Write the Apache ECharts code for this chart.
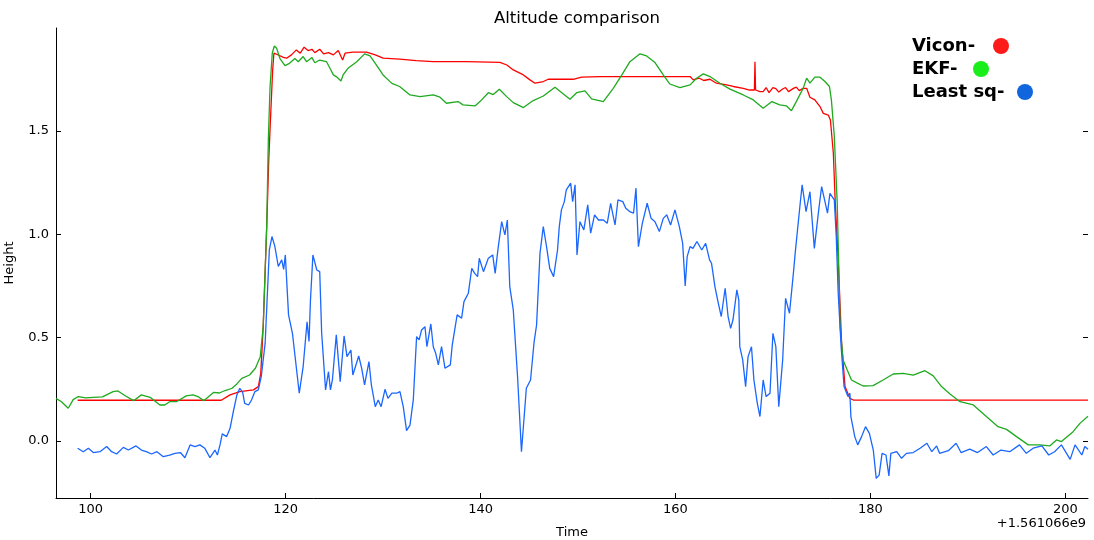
<!DOCTYPE html>
<html>
<head>
<meta charset="utf-8">
<script src="https://cdn.jsdelivr.net/npm/echarts@6/dist/echarts.min.js"></script>
<style>
  html, body { margin: 0; padding: 0; background: #fff; }
  #chart { width: 1094px; height: 540px; }
</style>
</head>
<body>
<div id="chart"></div>
<script>
(function () {
    "use strict";

    // time offsets (s, relative to 1.561066e9) and heights (m)
    var viconT = [98.66, 113.4, 114.3, 115.3, 116.7, 117.2, 117.45, 117.7, 118.06, 118.27, 118.4, 118.67, 118.8,
        119.08, 119.77, 120.1, 120.6, 121.1, 121.5, 121.9, 122.3, 122.7, 123.0, 123.5, 123.9, 124.4, 124.9, 125.4,
        125.85, 126.1, 126.9, 128.3, 129.2, 130.0, 131.7, 133.4, 135.15, 138.57, 141.99, 142.7, 143.36, 144.4,
        145.07, 145.6, 146.44, 146.95, 149.5, 150.37, 152.25, 155.7, 161.5, 161.83, 162.4, 162.9, 163.54, 164.2,
        165.25, 165.93, 166.96, 167.6, 168.1, 168.16, 168.22, 168.67, 169.0, 169.3, 169.6, 170.0, 170.3, 170.6,
        171.0, 171.3, 171.6, 172.1, 172.4, 172.7, 173.1, 173.46, 173.8, 174.3, 174.83, 175.17, 175.68, 175.9,
        176.2, 176.4, 176.7, 177.05, 177.4, 177.9, 178.25, 202.33];
    var viconV = [0.197, 0.197, 0.223, 0.239, 0.247, 0.263, 0.327, 0.553, 1.037, 1.36, 1.505, 1.795, 1.876,
        1.871, 1.856, 1.852, 1.868, 1.892, 1.876, 1.905, 1.889, 1.895, 1.879, 1.895, 1.873, 1.879, 1.868, 1.889,
        1.843, 1.876, 1.881, 1.881, 1.868, 1.852, 1.847, 1.84, 1.835, 1.835, 1.832, 1.819, 1.795, 1.771,
        1.747, 1.731, 1.739, 1.75, 1.75, 1.76, 1.763, 1.763, 1.763, 1.747, 1.756, 1.744, 1.75, 1.731,
        1.723, 1.715, 1.706, 1.698, 1.698, 1.835, 1.698, 1.69, 1.69, 1.71, 1.685, 1.71, 1.705, 1.688,
        1.703, 1.71, 1.69, 1.706, 1.712, 1.695, 1.706, 1.706, 1.663, 1.65, 1.618, 1.585, 1.577, 1.553,
        1.392, 1.15, 0.876, 0.473, 0.263, 0.206, 0.198, 0.198];

    var ekfT = [96.44, 97.0, 97.7, 98.2, 98.73, 99.5, 100.27, 101.2, 102.3, 102.8, 103.5, 104.4, 105.2, 106.1,
        107.1, 107.6, 108.1, 108.8, 109.8, 110.5, 111.0, 111.6, 112.6, 113.2, 113.8, 114.5, 115.0, 115.5, 116.3,
        116.9, 117.4, 117.7, 118.06, 118.23, 118.4, 118.63, 118.84, 119.08, 119.42, 119.93, 120.4, 120.95, 121.3,
        121.8, 122.15, 122.7, 123.0, 123.5, 124.2, 124.55, 124.9, 125.2, 125.68, 125.9, 126.4, 127.3, 128.1,
        128.66, 129.2, 130.0, 130.9, 131.7, 132.76, 133.8, 135.15, 135.84, 136.5, 137.7, 138.2, 139.43, 139.94,
        140.8, 141.3, 141.93, 142.68, 143.36, 144.4, 145.41, 146.44, 147.64, 148.5, 149.18, 149.86, 150.72,
        151.4, 152.6, 153.62, 154.5, 155.33, 156.36, 157.04, 157.9, 158.75, 159.43, 160.46, 161.5, 162.17,
        162.86, 163.54, 164.56, 165.6, 166.96, 167.99, 169.0, 169.9, 170.7, 171.4, 171.9, 172.4, 173.1, 173.46,
        173.8, 174.3, 174.83, 175.34, 175.8, 176.0, 176.3, 176.6, 176.9, 177.2, 177.55, 178.06, 178.57, 179.26,
        180.28, 181.3, 182.35, 183.37, 184.4, 185.6, 186.45, 187.3, 188.17, 189.2, 190.56, 191.9, 193.1, 193.97,
        195.0, 196.2, 197.4, 198.4, 199.1, 199.6, 200.8, 201.5, 202.33];
    var ekfV = [0.206, 0.19, 0.158, 0.2, 0.215, 0.208, 0.211, 0.213, 0.239, 0.242, 0.22, 0.195, 0.223, 0.211,
        0.174, 0.174, 0.19, 0.19, 0.218, 0.223, 0.215, 0.195, 0.235, 0.232, 0.244, 0.255, 0.276, 0.303, 0.319,
        0.352, 0.408, 0.553, 1.037, 1.465, 1.71, 1.876, 1.911, 1.9, 1.85, 1.816, 1.827, 1.85, 1.835,
        1.86, 1.835, 1.855, 1.83, 1.843, 1.835, 1.803, 1.771, 1.763, 1.742, 1.771, 1.803, 1.835, 1.873,
        1.863, 1.827, 1.771, 1.73, 1.715, 1.674, 1.666, 1.674, 1.663, 1.634, 1.642, 1.626, 1.621, 1.642,
        1.685, 1.676, 1.702, 1.666, 1.637, 1.613, 1.647, 1.669, 1.711, 1.679, 1.653, 1.685, 1.694,
        1.655, 1.642, 1.706, 1.771, 1.835, 1.873, 1.863, 1.831, 1.771, 1.727, 1.71, 1.723, 1.755,
        1.776, 1.763, 1.731, 1.702, 1.674, 1.65, 1.61, 1.642, 1.626, 1.621, 1.598, 1.642, 1.706, 1.755,
        1.731, 1.76, 1.76, 1.739, 1.715, 1.65, 1.473, 1.15, 0.553, 0.392, 0.352, 0.295, 0.282, 0.266,
        0.268, 0.295, 0.324, 0.327, 0.319, 0.34, 0.315, 0.263, 0.227, 0.19, 0.174, 0.118, 0.069, 0.056,
        0.021, -0.019, -0.019, -0.024, 0.005, -0.003, 0.045, 0.085, 0.12];

    var lsqT = [98.66, 99.24, 99.76, 100.27, 100.95, 101.64, 102.15, 102.66, 103.35, 103.86, 104.65, 105.2, 105.7,
        106.25, 106.8, 107.45, 108.1, 108.65, 109.2, 109.67, 110.2, 110.7, 111.2, 111.7, 112.24, 112.75, 113.0,
        113.27, 113.5, 113.95, 114.3, 114.6, 115.0, 115.3, 115.6, 115.8, 116.2, 116.5, 116.85, 117.2, 117.5,
        117.9, 118.1, 118.33, 118.6, 118.9, 119.25, 119.6, 119.8, 119.97, 120.3, 120.7, 121.4, 121.8, 122.2,
        122.4, 122.55, 122.8, 123.2, 123.5, 123.7, 124.1, 124.4, 124.6, 124.8, 125.2, 125.6, 126.0, 126.3,
        126.7, 126.9, 127.5, 127.8, 128.1, 128.55, 128.8, 129.2, 129.5, 129.8, 130.2, 130.5, 130.9, 131.4,
        131.73, 132.07, 132.41, 132.76, 133.1, 133.44, 133.7, 133.95, 134.3, 134.5, 134.9, 135.15, 135.4,
        135.67, 136.0, 136.35, 136.9, 137.1, 137.6, 138.06, 138.3, 138.75, 139.1, 139.4, 139.7, 139.87,
        140.3, 140.8, 141.25, 141.5, 141.8, 142.17, 142.5, 142.75, 143.0, 143.36, 143.8, 144.2, 144.7,
        145.13, 145.5, 145.75, 146.1, 146.44, 146.8, 147.1, 147.5, 147.9, 148.08, 148.3, 148.6, 148.8,
        149.25, 149.45, 149.7, 149.9, 150.2, 150.6, 151.0, 151.3, 151.7, 152.1, 152.6, 153.0, 153.35,
        153.8, 154.1, 154.6, 154.9, 155.3, 155.7, 155.95, 156.2, 156.6, 157.1, 157.5, 157.9, 158.35,
        158.75, 159.1, 159.5, 159.95, 160.4, 160.74, 161.0, 161.2, 161.5, 161.8, 162.2, 162.7, 163.1,
        163.5, 163.7, 164.05, 164.4, 164.7, 165.1, 165.4, 165.66, 165.9, 166.3, 166.5, 166.6, 166.9,
        167.2, 167.45, 167.8, 168.05, 168.4, 168.67, 169.0, 169.3, 169.7, 170.0, 170.3, 170.6, 171.0,
        171.3, 171.7, 172.1, 172.3, 172.5, 172.8, 173.0, 173.4, 173.8, 174.25, 174.7, 175.0, 175.3,
        175.6, 175.85, 176.3, 176.5, 176.7, 177.0, 177.3, 177.7, 177.9, 178.0, 178.4, 178.7, 179.1,
        179.5, 179.9, 180.3, 180.6, 180.9, 181.2, 181.6, 181.9, 182.1, 182.7, 183.2, 183.7, 184.4,
        185.1, 185.8, 186.3, 186.8, 187.1, 188.0, 188.8, 189.3, 190.2, 191.0, 191.9, 192.6, 193.4,
        194.3, 195.3, 196.0, 196.7, 197.6, 198.3, 198.9, 199.6, 200.5, 201.0, 201.7, 202.0, 202.33];
    var lsqV = [-0.035, -0.052, -0.035, -0.056, -0.052, -0.027, -0.052, -0.063, -0.031, -0.044, -0.024, -0.044, -0.052,
        -0.063, -0.052, -0.076, -0.068, -0.06, -0.056, -0.081, -0.019, -0.027, -0.019, -0.035, -0.081, -0.044, -0.068,
        -0.019, 0.034, 0.021, 0.061, 0.134, 0.223, 0.255, 0.234, 0.182, 0.174, 0.198, 0.239, 0.247, 0.311,
        0.473, 0.682, 0.924, 0.989, 0.94, 0.844, 0.876, 0.83, 0.9, 0.61, 0.521, 0.231, 0.36, 0.577,
        0.481, 0.682, 0.9, 0.827, 0.819, 0.521, 0.247, 0.335, 0.247, 0.295, 0.513, 0.287, 0.508, 0.408,
        0.44, 0.319, 0.411, 0.352, 0.271, 0.384, 0.271, 0.166, 0.198, 0.166, 0.25, 0.206, 0.231, 0.231,
        0.239, 0.166, 0.05, 0.077, 0.198, 0.505, 0.489, 0.537, 0.553, 0.456, 0.566, 0.456, 0.424,
        0.368, 0.456, 0.352, 0.368, 0.465, 0.61, 0.594, 0.674, 0.715, 0.835, 0.811, 0.795, 0.884,
        0.819, 0.884, 0.9, 0.811, 0.932, 1.061, 0.997, 1.069, 0.747, 0.634, 0.311, -0.052, 0.255,
        0.295, 0.481, 0.561, 0.908, 1.037, 0.932, 0.835, 0.795, 0.924, 1.037, 1.118, 1.158, 1.215,
        1.247, 1.158, 1.239, 0.9, 1.061, 1.021, 1.142, 1.005, 1.094, 1.069, 1.069, 1.053, 1.15,
        1.045, 1.166, 1.158, 1.126, 1.11, 1.102, 1.223, 0.94, 1.053, 1.15, 1.077, 1.061, 1.013,
        1.077, 1.094, 1.045, 1.118, 1.037, 0.956, 0.75, 0.892, 0.94, 0.932, 0.965, 0.924, 0.956,
        0.876, 0.86, 0.747, 0.666, 0.602, 0.739, 0.602, 0.545, 0.585, 0.731, 0.682, 0.456, 0.392,
        0.263, 0.408, 0.456, 0.295, 0.182, 0.118, 0.295, 0.215, 0.231, 0.521, 0.456, 0.166, 0.392,
        0.69, 0.618, 0.811, 0.916, 0.924, 1.15, 1.239, 1.11, 1.206, 0.932, 1.118, 1.231, 1.166,
        1.102, 1.198, 1.166, 0.989, 0.715, 0.456, 0.263, 0.215, 0.231, 0.118, 0.021, -0.019, 0.021,
        0.069, 0.037, -0.044, -0.181, -0.165, -0.06, -0.068, -0.169, -0.06, -0.052, -0.084, -0.06, -0.056,
        -0.035, -0.011, -0.052, -0.024, -0.06, -0.047, -0.011, -0.056, -0.04, -0.056, -0.027, -0.068, -0.044,
        -0.052, -0.019, -0.06, -0.035, -0.024, -0.068, -0.052, -0.019, -0.089, -0.019, -0.068, -0.027, -0.04];

    var xTicks = [100, 120, 140, 160, 180, 200];
    var yTicks = [0, 0.5, 1.0, 1.5];

    var FONT = '"DejaVu Sans", sans-serif';

    function zip(t, v) {
        return t.map(function (x, i) { return [x, v[i]]; });
    }

    function lineSeries(name, t, v, color) {
        return {
            name: name,
            type: 'line',
            data: zip(t, v),
            showSymbol: false,
            symbol: 'none',
            lineStyle: { color: color, width: 1.3 },
            silent: true
        };
    }

    function legendRow(label, y, dotX, color) {
        return [{
            type: 'text', left: 912, top: y - 8,
            style: { text: label, fill: '#000', font: 'bold 18px ' + FONT }
        }, {
            type: 'circle', shape: { cx: dotX, cy: y + 1, r: 8 },
            style: { fill: color }
        }];
    }

    var chart = echarts.init(document.getElementById('chart'), null, { renderer: 'canvas' });

    var tickStyle = { inside: true, length: 5, lineStyle: { color: '#000', width: 1 } };

    var option = {
        animation: false,
        backgroundColor: '#fff',
        title: {
            text: 'Altitude comparison', left: 572, top: 5, textAlign: 'center',
            textStyle: { fontFamily: FONT, fontSize: 16.5, fontWeight: 'normal', color: '#000' }
        },
        grid: { left: 56, right: 6, top: 28, bottom: 42, containLabel: false, outerBoundsMode: 'none' },
        xAxis: {
            type: 'value', min: 96.44, max: 202.33,
            name: 'Time', nameLocation: 'middle', nameGap: 28,
            nameTextStyle: { fontFamily: FONT, fontSize: 13, color: '#000' },
            axisLine: { show: true, onZero: false, lineStyle: { color: '#000', width: 1 } },
            axisTick: Object.assign({ customValues: xTicks }, tickStyle),
            axisLabel: {
                customValues: xTicks, margin: 5,
                fontFamily: FONT, fontSize: 13, color: '#000'
            },
            splitLine: { show: false }
        },
        yAxis: [{
            type: 'value', min: -0.276, max: 1.998,
            name: 'Height', nameLocation: 'middle', nameGap: 40, nameRotate: 90,
            nameTextStyle: { fontFamily: FONT, fontSize: 13, color: '#000' },
            axisLine: { show: true, onZero: false, lineStyle: { color: '#000', width: 1 } },
            axisTick: Object.assign({ customValues: yTicks }, tickStyle),
            axisLabel: {
                customValues: yTicks, margin: 7,
                fontFamily: FONT, fontSize: 13, color: '#000',
                formatter: function (v) { return v.toFixed(1); }
            },
            splitLine: { show: false }
        }, {
            type: 'value', min: -0.276, max: 1.998, position: 'right',
            axisLine: { show: false },
            axisTick: Object.assign({ customValues: yTicks }, tickStyle),
            axisLabel: { show: false },
            splitLine: { show: false }
        }],
        series: [
            lineSeries('Vicon', viconT, viconV, '#ff0000'),
            lineSeries('EKF', ekfT, ekfV, '#1faa1f'),
            lineSeries('Least sq', lsqT, lsqV, '#1a66ff')
        ],
        graphic: [].concat(
            legendRow('Vicon-', 45, 1001, '#ff1a1a'),
            legendRow('EKF-', 68, 981, '#1aee1a'),
            legendRow('Least sq-', 91, 1025, '#1166dd'),
            [{
                type: 'text', right: 8, top: 517,
                style: { text: '+1.561066e9', fill: '#000', font: '13px ' + FONT }
            }]
        )
    };

    chart.setOption(option);
}());
</script>
</body>
</html>
